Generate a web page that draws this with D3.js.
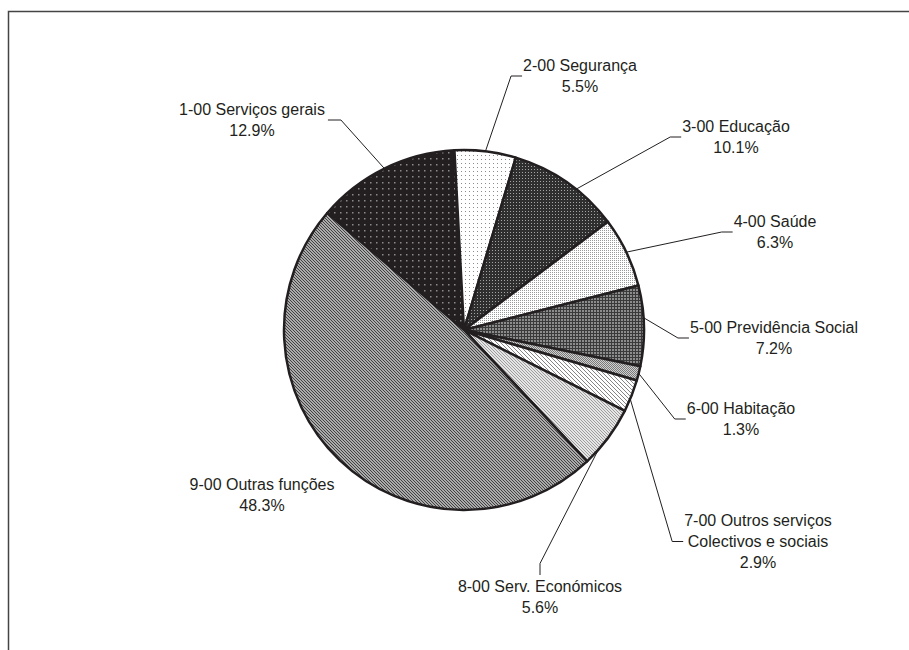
<!DOCTYPE html>
<html>
<head>
<meta charset="utf-8">
<script src="https://cdn.jsdelivr.net/npm/d3@7"></script>
<style>
  body { margin: 0; background: #fff; }
  text { font-family: "Liberation Sans", Arial, Helvetica, sans-serif; fill: #231f20; }
</style>
</head>
<body>
<svg width="909" height="650"></svg>
<script>
// Dados
const categories = [
  "1-00 Serviços gerais", "2-00 Segurança", "3-00 Educação", "4-00 Saúde",
  "5-00 Previdência Social", "6-00 Habitação",
  "7-00 Outros serviços|Colectivos e sociais", "8-00 Serv. Económicos",
  "9-00 Outras funções"
];
const shares = [12.9, 5.5, 10.1, 6.3, 7.2, 1.3, 2.9, 5.6, 48.3];
const shareLabels = ["12.9%", "5.5%", "10.1%", "6.3%", "7.2%", "1.3%", "2.9%", "5.6%", "48.3%"];

// Posição dos rótulos (centro, primeira linha), lado da linha de chamada, ponto no setor
const labelPos = [
  [252, 115, "right", 0.5], [580, 71, "left", 0.5], [736, 132, "left", 0.6], [775, 227, "left", 0.5],
  [774, 333, "left", 0.4], [741, 414, "left", 0.5], [758, 526, "left", 0.6], [540, 592, "top", 0.75],
  [262, 490, null, 0.5]
];

const svg = d3.select("svg"),
  width = +svg.attr("width"),
  height = +svg.attr("height");

const cx = 464, cy = 330, radius = 180;
const lineH = 21;
const ink = "#231f20";

// Moldura
svg.append("rect")
  .attr("x", 8.5).attr("y", 11.5)
  .attr("width", 1000).attr("height", 1000)
  .attr("fill", "none").attr("stroke", "#444").attr("stroke-width", 1.5);

// Padrões de preenchimento
const defs = svg.append("defs");
function pattern(id, size, bg, draw) {
  const p = defs.append("pattern").attr("id", id)
    .attr("patternUnits", "userSpaceOnUse")
    .attr("width", size).attr("height", size);
  p.append("rect").attr("width", size).attr("height", size).attr("fill", bg);
  draw(p);
}
pattern("p1", 6, "#231f20", p => p.append("rect").attr("x", 2).attr("y", 2).attr("width", 1.5).attr("height", 1.5).attr("fill", "#8a8a8a"));
pattern("p2", 4, "#ffffff", p => p.append("rect").attr("x", 1).attr("y", 1).attr("width", 1).attr("height", 1).attr("fill", "#8a8a8a"));
pattern("p3", 3, "#2f2f2f", p => p.append("rect").attr("x", 1).attr("y", 1).attr("width", 1).attr("height", 1).attr("fill", "#a5a5a5"));
pattern("p4", 2, "#ffffff", p => p.append("rect").attr("x", 0).attr("y", 0).attr("width", 1).attr("height", 1).attr("fill", "#9a9a9a"));
pattern("p5", 3, "#8c8c8c", p => {
  p.append("rect").attr("width", 3).attr("height", 1).attr("fill", "#3a3a3a");
  p.append("rect").attr("width", 1).attr("height", 3).attr("fill", "#3a3a3a");
});
pattern("p6", 2, "#d0d0d0", p => {
  p.append("rect").attr("width", 1).attr("height", 1).attr("fill", "#7a7a7a");
  p.append("rect").attr("x", 1).attr("y", 1).attr("width", 1).attr("height", 1).attr("fill", "#7a7a7a");
});
pattern("p7", 4, "#ffffff", p => p.append("path").attr("d", "M-1,-1L5,5M-1,3L1,5M3,-1L5,1").attr("stroke", "#858585").attr("stroke-width", 1));
pattern("p8", 3, "#e6e6e6", p => p.append("path").attr("d", "M-1,-1L4,4M-1,2L1,4M2,-1L4,1").attr("stroke", "#8a8a8a").attr("stroke-width", 0.8));
pattern("p9", 3, "#d8d8d8", p => p.append("path").attr("d", "M-1,-1L4,4M-1,2L1,4M2,-1L4,1").attr("stroke", "#3a3a3a").attr("stroke-width", 1.1));

const fills = ["p1", "p2", "p3", "p4", "p5", "p6", "p7", "p8", "p9"];

// Setores
const start = -49.44 * Math.PI / 180;
const pie = d3.pie().sort(null).startAngle(start).endAngle(start + 2 * Math.PI);
const arcs = pie(shares);
const arc = d3.arc().innerRadius(0).outerRadius(radius);

const g = svg.append("g").attr("transform", `translate(${cx},${cy})`);
g.selectAll("path.slice")
  .data(arcs)
  .join("path")
  .attr("class", "slice")
  .attr("d", arc)
  .attr("fill", (d, i) => `url(#${fills[i]})`)
  .attr("stroke", ink)
  .attr("stroke-width", 2.5)
  .attr("stroke-linejoin", "round");

// Rótulos
const labels = svg.selectAll("g.label")
  .data(arcs)
  .join("g")
  .attr("class", "label");

labels.each(function (d, i) {
  const el = d3.select(this);
  const lines = categories[i].split("|").concat([shareLabels[i]]);
  const [lx, ly] = labelPos[i];
  lines.forEach((t, k) => {
    el.append("text")
      .attr("x", lx).attr("y", ly + k * lineH)
      .attr("text-anchor", "middle")
      .style("font-size", "16px")
      .text(t);
  });
});

// Linhas de chamada
labels.each(function (d, i) {
  const side = labelPos[i][2];
  if (!side) return;
  const bb = this.getBBox();
  const a = d.startAngle + (d.endAngle - d.startAngle) * labelPos[i][3];
  const p0 = [cx + radius * Math.sin(a), cy - radius * Math.cos(a)];
  const midY = bb.y + bb.height / 2;
  let p1, p2;
  if (side === "left") { p2 = [bb.x - 1, midY]; p1 = [p2[0] - 11, midY]; }
  else if (side === "right") { p2 = [bb.x + bb.width + 3, midY]; p1 = [p2[0] + 13, midY]; }
  else { p2 = [bb.x + bb.width / 2, bb.y - 3]; p1 = [p2[0], p2[1] - 11.5]; }
  svg.append("path")
    .attr("d", d3.line()([p0, p1, p2]))
    .attr("fill", "none")
    .attr("stroke", ink)
    .attr("stroke-width", 1);
});
</script>
</body>
</html>
